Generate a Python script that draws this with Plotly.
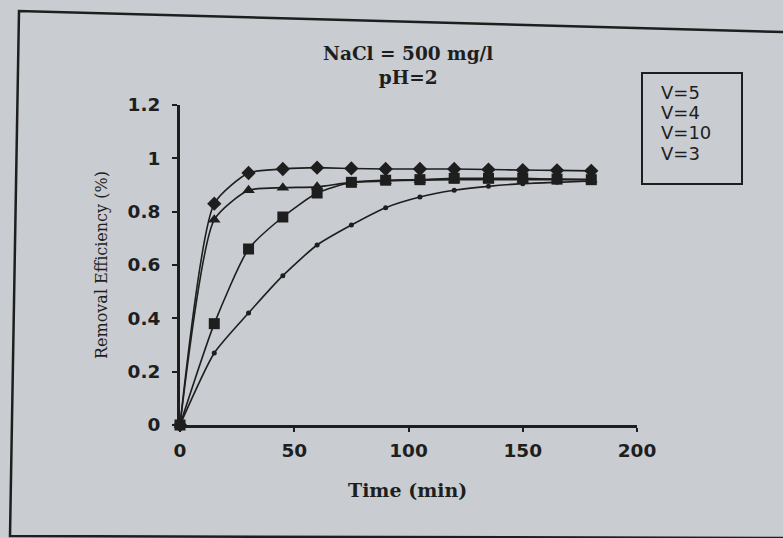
import plotly.graph_objects as go

W, H = 783, 538

time_min = [0, 15, 30, 45, 60, 75, 90, 105, 120, 135, 150, 165, 180]
v5 = [0, 0.83, 0.945, 0.96, 0.965, 0.962, 0.96, 0.96, 0.96, 0.958, 0.956, 0.955, 0.953]
v4 = [0, 0.77, 0.88, 0.89, 0.893, 0.91, 0.915, 0.918, 0.92, 0.92, 0.92, 0.92, 0.92]
v10 = [0, 0.38, 0.66, 0.78, 0.87, 0.91, 0.918, 0.92, 0.925, 0.925, 0.925, 0.922, 0.92]
v3 = [0, 0.27, 0.42, 0.56, 0.675, 0.75, 0.815, 0.855, 0.88, 0.895, 0.905, 0.91, 0.915]

series_names = ["V=5", "V=4", "V=10", "V=3"]
x_ticks = [0, 50, 100, 150, 200]
y_ticks = [0, 0.2, 0.4, 0.6, 0.8, 1, 1.2]
y_tick_text = ["0", "0.2", "0.4", "0.6", "0.8", "1", "1.2"]
title_lines = ["NaCl = 500 mg/l", "pH=2"]

INK = "#1e1e1e"
BG = "#c9ccd0"

def px(x):
    return x / W

def py(y):
    return 1 - y / H

fig = go.Figure()
styles = [
    (v5, "diamond", 11),
    (v4, "triangle-up", 11),
    (v10, "square", 11),
    (v3, "circle", 5),
]
for (vals, sym, size), name in zip(styles, series_names):
    fig.add_trace(go.Scatter(
        x=time_min, y=vals, name=name, mode="lines+markers",
        line=dict(color=INK, width=1.6, shape="spline", smoothing=0.6),
        marker=dict(symbol=sym, size=size, color=INK),
        cliponaxis=False, showlegend=False,
    ))

tickfont = dict(family="DejaVu Sans", size=18.5, color=INK, weight="bold")
fig.update_layout(
    width=W, height=H,
    margin=dict(l=0, r=0, t=0, b=0, autoexpand=False),
    paper_bgcolor=BG, plot_bgcolor=BG,
    xaxis=dict(domain=[px(180), px(637)], range=[0, 200], tickvals=x_ticks, automargin=False,
               showgrid=False, zeroline=False, showline=True, linecolor=INK, linewidth=2.5,
               ticks="outside", ticklen=4, tickwidth=2, tickcolor=INK,
               tickfont=tickfont, ticklabelstandoff=3),
    yaxis=dict(domain=[py(425), py(105)], range=[0, 1.2], tickvals=y_ticks, ticktext=y_tick_text,
               automargin=False,
               showgrid=False, zeroline=False, showline=True, linecolor=INK, linewidth=3,
               ticks="outside", ticklen=5, tickwidth=2, tickcolor=INK,
               tickfont=tickfont, ticklabelstandoff=8),
)

serif = "DejaVu Serif"
ann = []
def note(text, x, y, font, xanchor="center", textangle=0):
    ann.append(dict(text=text, x=px(x), y=py(y), xref="paper", yref="paper",
                    xanchor=xanchor, yanchor="middle", showarrow=False,
                    textangle=textangle, font=font))

note("<br>".join(f"<b>{t}</b>" for t in title_lines), 408, 65, dict(family=serif, size=18.5, color=INK))
note("<b>Time (min)</b>", 408, 490, dict(family=serif, size=19, color=INK))
note("Removal Efficiency (%)", 101, 265, dict(family=serif, size=16, color=INK), textangle=-90)
legend_y = [92, 112, 133, 154]
for name, yy in zip(series_names, legend_y):
    note(name, 659, yy, dict(family="DejaVu Sans", size=18, color=INK), xanchor="left")
fig.update_layout(annotations=ann)

shapes = [
    dict(type="rect", xref="paper", yref="paper", x0=px(642), x1=px(742), y0=py(73), y1=py(184),
         line=dict(color=INK, width=2)),
    dict(type="path", xref="paper", yref="paper",
         path=f"M {px(783)},{py(32)} L {px(19)},{py(11)} L {px(10)},{py(536)} L {px(783)},{py(538)}",
         line=dict(color=INK, width=2.5)),
]
fig.update_layout(shapes=shapes)

fig.write_html("out.html")
